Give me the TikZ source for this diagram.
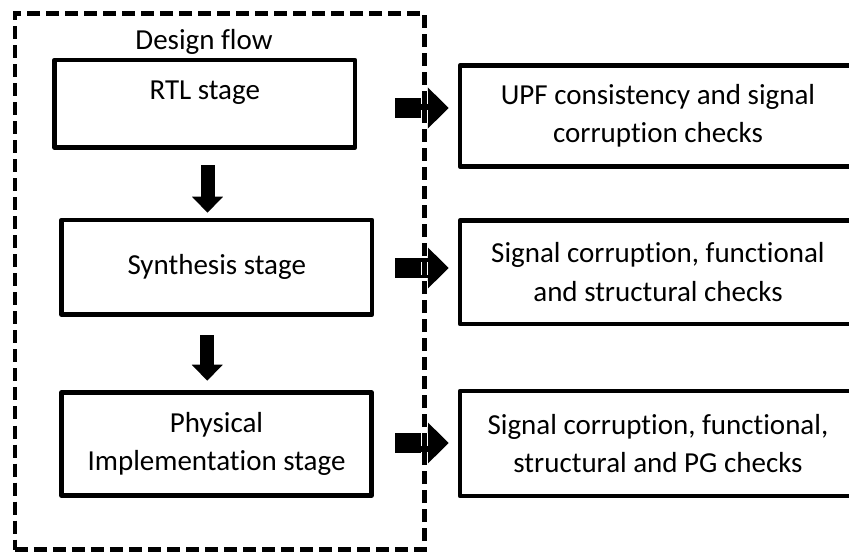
\documentclass[tikz,border=0pt]{standalone}
\usepackage{fontspec}
\setmainfont{Carlito}[Ligatures=NoCommon]
\usetikzlibrary{arrows.meta,calc}
\begin{document}
\begin{tikzpicture}[x=1bp,y=-1bp,
  box/.style={draw, line width=4.5bp, line join=round, inner sep=0pt,
    align=center, font=\fontsize{29bp}{38.5bp}\selectfont},
  checkbox/.style={box, minimum width=396bp},
  flowframe/.style={draw, line width=4.5bp, dash pattern=on 13bp off 6bp,
    inner sep=0pt},
  downarrow/.style={line width=14bp, -{Triangle[length=16bp,width=30bp]}},
  rightarrow/.style={line width=20bp, -{Triangle[length=21bp,width=40bp]}},
]
\useasboundingbox (0,0) rectangle (849,559);
\clip (0,0) rectangle (849,559);

% stages of the design flow
\node[box, minimum width=300.5bp, minimum height=87.5bp,
      text height=20bp, text depth=27.5bp] (rtl) at (204.75,103.75) {RTL stage};
\node[box, minimum width=310.5bp, minimum height=94.5bp] (synth) at (216.75,267.25) {Synthesis stage};
\node[box, minimum width=310bp, minimum height=103bp] (phys) at (216.5,444) {Physical\\Implementation stage};

% checks run at each stage
\node[checkbox, minimum height=101bp] (upf) at (658,116) {UPF consistency and signal\\corruption checks};
\node[checkbox, minimum height=103.5bp] (func) at (658,272.25) {Signal corruption, functional\\and structural checks};
\node[checkbox, minimum height=105bp] (pg) at (658,443.5) {Signal corruption, functional,\\structural and PG checks};

% flow between stages
\coordinate (d1) at ($(rtl.south)+(2.75,0)$);
\coordinate (d2) at ($(synth.south)+(-9.5,0)$);
\draw[downarrow, shorten <=15.5bp, shorten >=5bp] (d1) -- (d1 |- synth.north);
\draw[downarrow, shorten <=18.5bp, shorten >=9.5bp] (d2) -- (d2 |- phys.north);

% stage to check arrows
\coordinate (r1) at ($(rtl.east)+(0,4.25)$);
\coordinate (r2) at ($(synth.east)+(0,0.75)$);
\coordinate (r3) at ($(phys.east)+(0,-1)$);
\draw[rightarrow, shorten <=38bp, shorten >=9bp] (r1) -- (r1 -| upf.west);
\draw[rightarrow, shorten <=21bp, shorten >=9bp] (r2) -- (r2 -| func.west);
\draw[rightarrow, shorten <=21.5bp, shorten >=9bp] (r3) -- (r3 -| pg.west);

% dashed frame around the design flow
\node[flowframe, draw=white, line width=7bp, minimum width=409.5bp, minimum height=536bp] (halo) at (219.75,281.5) {};
\node[flowframe, minimum width=409.5bp, minimum height=536bp] (flow) at (219.75,281.5) {};
\node[anchor=base, font=\fontsize{29bp}{34bp}\selectfont] (title) at (204,50) {Design flow};
\end{tikzpicture}
\end{document}
